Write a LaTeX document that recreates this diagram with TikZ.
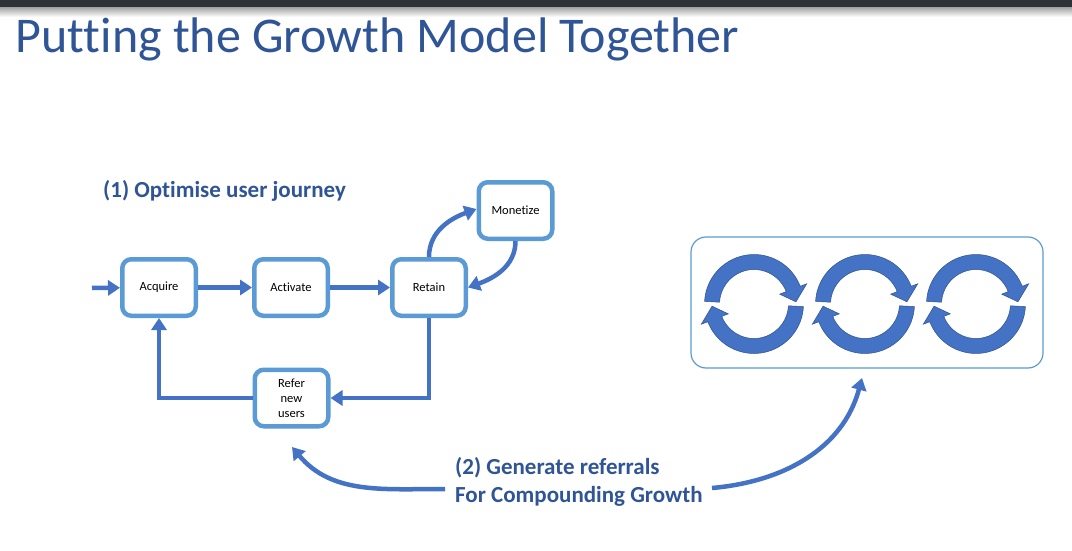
\documentclass[tikz,border=0pt]{standalone}
\usepackage{fontspec}
\setmainfont[RawFeature={-liga}]{Carlito}
\usetikzlibrary{arrows.meta}

\definecolor{titleblue}{HTML}{2F5597}
\definecolor{boxblue}{HTML}{5B9BD5}
\definecolor{flowblue}{HTML}{4472C4}
\definecolor{ringedge}{HTML}{2F528F}
\definecolor{topbar}{HTML}{2E3136}

\tikzset{
  stage/.style={draw=boxblue, line width=4.5pt, rounded corners=9pt, fill=white,
    minimum width=73.5pt, minimum height=56.5pt, inner sep=2pt, align=center,
    font=\fontsize{12.5}{15}\selectfont},
  flow/.style={draw=flowblue, line width=4.5pt, -{Triangle[length=12pt,width=15pt]}},
  heading/.style={text=titleblue, font=\fontsize{23}{28}\selectfont\bfseries,
    inner sep=0pt, anchor=base west},
  ring/.style={fill=flowblue, draw=ringedge, line width=0.5pt, line join=miter},
  cycle pair/.pic={
    % upper half-ring, clockwise, head pointing down on the right
    \path[ring] (177:49.5) arc[start angle=177, end angle=21, radius=49.5]
      -- (21:56.5) -- (3:42) -- (21:27.5) -- (21:34.5)
      arc[start angle=21, end angle=177, radius=34.5] -- cycle;
    % lower half-ring, clockwise, head pointing up on the left
    \path[ring] (-3:49.5) arc[start angle=-3, end angle=-159, radius=49.5]
      -- (201:56.5) -- (183:42) -- (201:27.5) -- (201:34.5)
      arc[start angle=201, end angle=357, radius=34.5] -- cycle;
  }
}

\begin{document}
\begin{tikzpicture}[x=1pt,y=1pt]
  \path[use as bounding box, fill=white] (0,0) rectangle (1072,-551);

  % window bar and its shadow
  \fill[topbar] (0,0) rectangle (1072,-7.5);
  \shade[top color=black!35, bottom color=white] (0,-7.5) rectangle (1072,-17);

  % title
  \node[anchor=base west, inner sep=0pt, text=titleblue,
        font=\fontsize{50}{55}\selectfont] (title) at (15.5,-52.5)
        {Putting the Growth Model Together};

  % part (1): the user journey
  \node[heading] (journeylabel) at (103,-197) {(1) Optimise user journey};

  \node[stage] (acq) at (159,-287.5) {Acquire};
  \node[stage] (act) at (291,-287.5) {Activate};
  \node[stage] (ret) at (429,-287.5) {Retain};
  \node[stage] (mon) at (515.5,-210.5) {Monetize};
  \node[stage] (ref) at (291.5,-398) {Refer\\new\\users};

  \coordinate (entry) at (92,-288);
  \draw[flow] (entry) -- (acq);
  \draw[flow] (acq) -- (act);
  \draw[flow] (act) -- (ret);
  \draw[flow] (ret.south) |- (ref.east);
  \draw[flow] (ref.west) -| (acq.south);
  \draw[flow] (ret.north) to[out=90, in=200] ([yshift=1.5pt]mon.west);
  \draw[flow] (mon.south) to[out=-90, in=20] (ret.east);

  % compounding loops
  \node[draw=boxblue, line width=1.2pt, rounded corners=15pt,
        minimum width=352pt, minimum height=131pt] (loopbox) at (867,-302.5) {};
  \pic (loopA) at (754,-304) {cycle pair};
  \pic (loopB) at (865,-304) {cycle pair};
  \pic (loopC) at (976,-304) {cycle pair};

  % part (2): referrals
  \node[heading] (referA) at (455,-474) {(2) Generate referrals};
  \node[heading] (referB) at (455,-502) {For Compounding Growth};

  \coordinate (lstart) at (445,-489);
  \coordinate (ltip) at (292,-447);
  \coordinate (rstart) at (712,-488);
  \coordinate (rtip) at (862,-378);
  \draw[flow] (lstart) to[out=180, in=-50] (ltip);
  \draw[flow] (rstart) to[out=5, in=-105] (rtip);
\end{tikzpicture}
\end{document}
